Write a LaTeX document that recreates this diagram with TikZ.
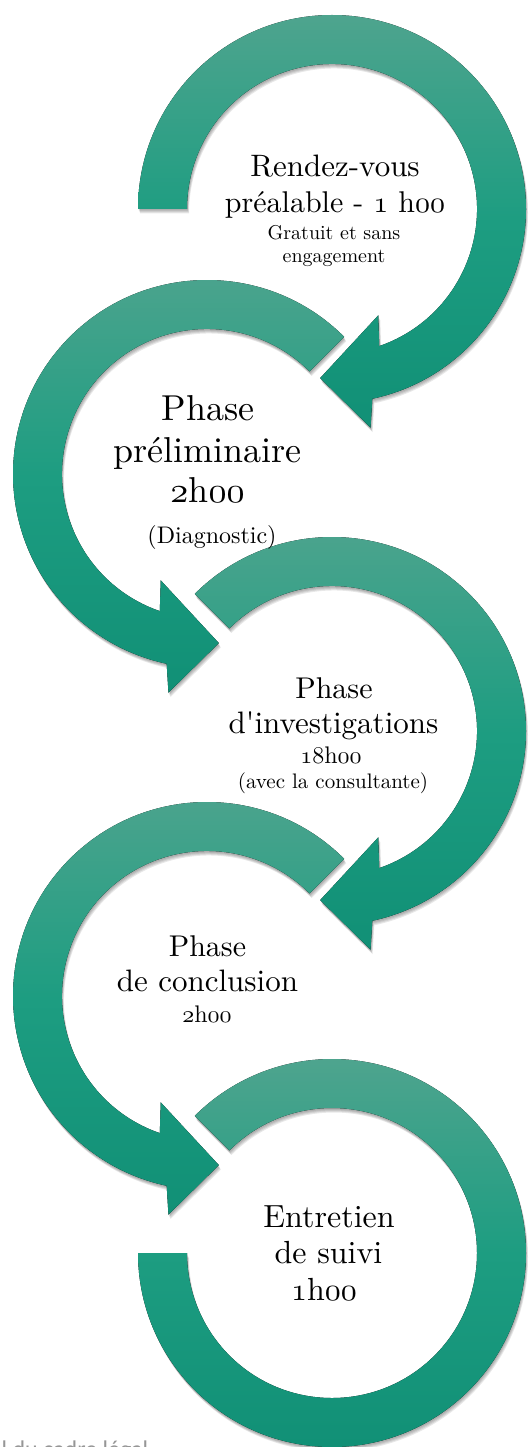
\documentclass[tikz,border=0pt]{standalone}
\usepackage{fontspec}
\setmainfont{lmroman10-regular}[Extension=.otf, Ligatures=TeXOff]
\newfontfamily\notefont{Carlito}
\DeclareFontFamily{OML}{osfx}{\skewchar\font=127}
\DeclareFontShape{OML}{osfx}{m}{it}{<-> cmmi10}{}
\definecolor{ringtop}{RGB}{78,164,142}
\definecolor{ringmid}{RGB}{29,157,129}
\definecolor{ringbot}{RGB}{17,144,118}
\definecolor{notegray}{RGB}{150,150,150}
\newcommand\fsz[2]{\fontsize{#1}{#2}\selectfont}
\newcommand\osn[1]{{\usefont{OML}{osfx}{m}{it}#1}}
\tikzset{
  ringfill/.style={top color=ringtop, bottom color=ringbot, middle color=ringmid, draw=none},
  rpath/.style={insert path={(#1:145) -- (#1:194) arc[start angle=#1, end angle=-78, radius=194] -- (-80:222) -- (-94:169.5) -- (-66.5:116) -- (-71:145) arc[start angle=-71, end angle=#1, radius=145] -- cycle}},
  lpath/.style={insert path={(#1:145) -- (#1:194) arc[start angle=#1, end angle=258, radius=194] -- (260:222) -- (274:169.5) -- (246.5:116) -- (251:145) arc[start angle=251, end angle=#1, radius=145] -- cycle}},
  opath/.style={insert path={(180:145) -- (180:194) arc[start angle=180, end angle=495, radius=194] -- (495:145) arc[start angle=495, end angle=180, radius=145] -- cycle}},
  shadelayer/.style={fill=black, fill opacity=0.09, draw=none},
  lbl/.style={anchor=base, inner sep=0pt, text=black},
}
\begin{document}
\begin{tikzpicture}[x=1pt,y=1pt]
\useasboundingbox (0,0) rectangle (531,-1447);
\coordinate (c1) at (332,-209);
\coordinate (c2) at (207,-474);
\coordinate (c3) at (332,-731);
\coordinate (c4) at (207,-996);
\coordinate (c5) at (332,-1253);
% shadows
\foreach \dx/\dy in {0.5/-1.5, 1/-2.5, 1.5/-3.5, 2/-4.5} {
  \fill[shadelayer, shift={(c1)}, xshift=\dx pt, yshift=\dy pt, rpath=180];
  \fill[shadelayer, shift={(c2)}, xshift=\dx pt, yshift=\dy pt, lpath=45];
  \fill[shadelayer, shift={(c3)}, xshift=\dx pt, yshift=\dy pt, rpath=135];
  \fill[shadelayer, shift={(c4)}, xshift=\dx pt, yshift=\dy pt, lpath=45];
  \fill[shadelayer, shift={(c5)}, xshift=\dx pt, yshift=\dy pt, opath];
}
% arrows
\fill[ringfill, shift={(c1)}, rpath=180];
\fill[ringfill, shift={(c2)}, lpath=45];
\fill[ringfill, shift={(c3)}, rpath=135];
\fill[ringfill, shift={(c4)}, lpath=45];
\fill[ringfill, shift={(c5)}, opath];
% texts circle 1
\node[lbl, font=\fsz{31}{36}] (t1a) at (335,-177) {Rendez-vous};
\node[lbl, font=\fsz{30}{36}] (t1b) at (335,-212.7) {préalable - \osn{1} h\osn{00}};
\node[lbl, font=\fsz{20}{22}] (t1c) at (334,-240) {Gratuit et sans};
\node[lbl, font=\fsz{20}{22}] (t1d) at (334,-262) {engagement};
% circle 2
\node[lbl, font=\fsz{36}{41}] (t2a) at (208,-420) {Phase};
\node[lbl, font=\fsz{36}{41}] (t2b) at (207.5,-462) {préliminaire};
\node[lbl, font=\fsz{36}{41}] (t2c) at (207.5,-502) {\osn{2}h\osn{00}};
\node[lbl, font=\fsz{24}{28}] (t2d) at (212,-543) {(Diagnostic)};
% circle 3
\node[lbl, font=\fsz{30}{35}] (t3a) at (334,-698) {Phase};
\node[lbl, font=\fsz{31}{35}] (t3b) at (333.5,-733) {d'investigations};
\node[lbl, font=\fsz{24}{28}] (t3c) at (331,-763) {\osn{18}h\osn{00}};
\node[lbl, font=\fsz{21}{25}] (t3d) at (333,-788) {(avec la consultante)};
% circle 4
\node[lbl, font=\fsz{30}{35}] (t4a) at (207.5,-956) {Phase};
\node[lbl, font=\fsz{31}{35}] (t4b) at (207.5,-991) {de conclusion};
\node[lbl, font=\fsz{24}{28}] (t4c) at (207,-1022) {\osn{2}h\osn{00}};
% circle 5
\node[lbl, font=\fsz{32}{37}] (t5a) at (329,-1227) {Entretien};
\node[lbl, font=\fsz{32}{37}] (t5b) at (328.5,-1263) {de suivi};
\node[lbl, font=\fsz{32}{37}] (t5c) at (324,-1300) {\osn{1}h\osn{00}};
% cut-off note
\node[anchor=base west, inner sep=0pt, text=notegray, font=\notefont\fsz{24}{28}] (note) at (1.5,-1457) {l du cadre légal};
\end{tikzpicture}
\end{document}
